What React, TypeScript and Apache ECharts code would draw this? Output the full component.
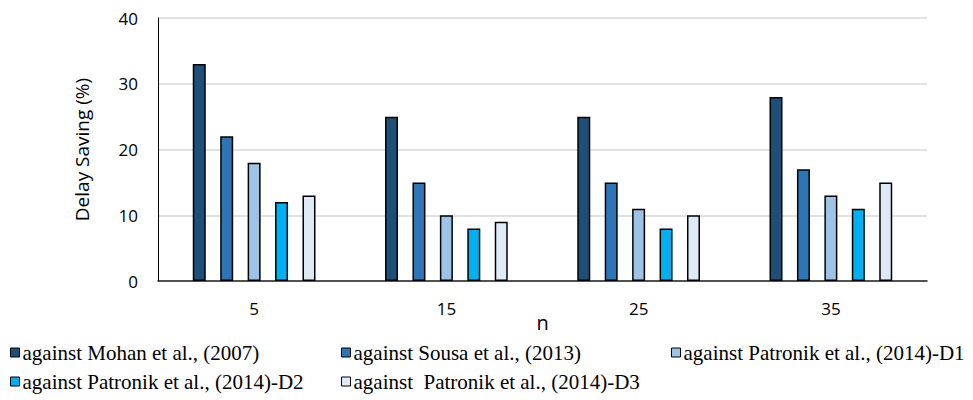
import React, { useEffect, useRef } from "react";
import * as echarts from "echarts";

const categories = ["5", "15", "25", "35"];
const seriesNames = [
  "against Mohan et al., (2007)",
  "against Sousa et al., (2013)",
  "against Patronik et al., (2014)-D1",
  "against Patronik et al., (2014)-D2",
  "against  Patronik et al., (2014)-D3",
];
const mohan = [33, 25, 25, 28];
const sousa = [22, 15, 15, 17];
const patronikD1 = [18, 10, 11, 13];
const patronikD2 = [12, 8, 8, 11];
const patronikD3 = [13, 9, 10, 15];
const colors = ["#1F4E79", "#2E75B6", "#9DC3E6", "#00B0F0", "#DEEBF7"];
const yTicks = { min: 0, max: 40, interval: 10 };

export default function App() {
  const ref = useRef<HTMLDivElement>(null);
  useEffect(() => {
    if (!ref.current) return;
    const chart = echarts.init(ref.current, undefined, { renderer: "svg" });
    const values = [mohan, sousa, patronikD1, patronikD2, patronikD3];
    const legendPos = [
      { left: 10, top: 342 },
      { left: 341, top: 342 },
      { left: 671, top: 342 },
      { left: 10, top: 371 },
      { left: 341, top: 371 },
    ];
    const sansFont = "'Open Sans', 'Liberation Sans', sans-serif";
    chart.setOption({
      animation: false,
      grid: { left: 158, right: 46, top: 18, bottom: 119 },
      legend: seriesNames.map((n, i) => ({
        data: [n],
        left: legendPos[i].left,
        top: legendPos[i].top,
        padding: 0,
        icon: "rect",
        itemWidth: 9,
        itemHeight: 9,
        itemStyle: { borderColor: "#000", borderWidth: 1 },
        textStyle: {
          fontFamily: "'Liberation Serif', 'Times New Roman', serif",
          fontSize: 21,
          color: "#000",
          padding: [0, 0, 0, -2],
        },
        selectedMode: false,
      })),
      xAxis: {
        type: "category",
        data: categories,
        name: "n",
        nameLocation: "middle",
        nameGap: 31,
        nameMoveOverlap: false,
        nameTextStyle: { fontFamily: sansFont, fontSize: 20, color: "#000" },
        axisTick: { show: false },
        axisLine: { lineStyle: { color: "#222", width: 1.5 } },
        axisLabel: { margin: 19, fontFamily: sansFont, fontSize: 17, color: "#000" },
      },
      yAxis: {
        type: "value",
        min: yTicks.min,
        max: yTicks.max,
        interval: yTicks.interval,
        name: "Delay Saving (%)",
        nameLocation: "middle",
        nameGap: 67,
        nameMoveOverlap: false,
        nameTextStyle: { fontFamily: sansFont, fontSize: 19, color: "#000" },
        axisLine: { show: true, lineStyle: { color: "#000", width: 1 } },
        axisTick: { show: false },
        axisLabel: { margin: 20, fontFamily: sansFont, fontSize: 17, color: "#000" },
        splitLine: { lineStyle: { color: "#d9d9d9", width: 1.5 } },
      },
      series: seriesNames.map((n, i) => ({
        name: n,
        type: "bar",
        data: values[i],
        barWidth: 13,
        barGap: "111%",
        itemStyle: { color: colors[i], borderColor: "#000", borderWidth: 1.5 },
      })),
    });
    return () => chart.dispose();
  }, []);
  return <div ref={ref} style={{ width: 973, height: 400, position: "absolute", left: 0, top: 0 }} />;
}
